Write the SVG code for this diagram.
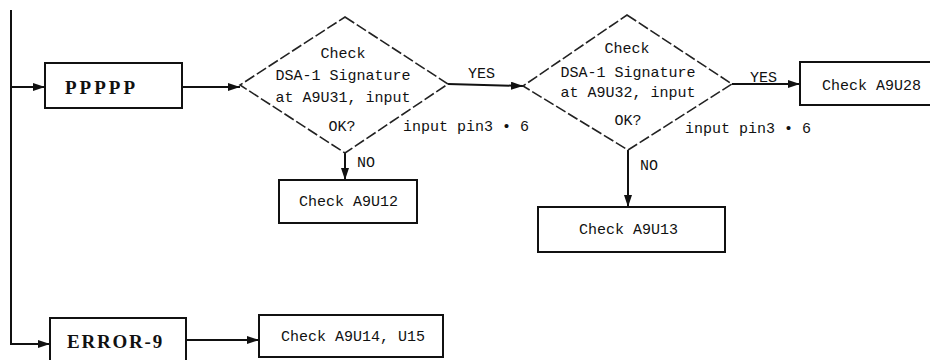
<svg xmlns="http://www.w3.org/2000/svg" width="930" height="360" viewBox="0 0 930 360">
<style>
.box{fill:#fff;stroke:#111;stroke-width:2}
.dia{fill:none;stroke:#222;stroke-width:1.6;stroke-dasharray:11 3}
.ln{fill:none;stroke:#111;stroke-width:2}
.t{font-family:"Liberation Mono","DejaVu Sans Mono",monospace;font-size:15px;fill:#111}
.b{font-family:"Liberation Serif","Times New Roman",serif;font-weight:bold;font-size:19px;fill:#111}
.m{text-anchor:middle}
</style>
<defs>
<marker id="ah" viewBox="0 0 12 8" refX="12" refY="4" markerWidth="12" markerHeight="8" markerUnits="userSpaceOnUse" orient="auto">
<path d="M0,0 L12,4 L0,8 Z" fill="#111"/>
</marker>
</defs>
<g id="connectors">
<path class="ln" d="M11,10 V344 H50" marker-end="url(#ah)"/>
<path class="ln" d="M11,87 H45" marker-end="url(#ah)"/>
<path class="ln" d="M182,87 H240" marker-end="url(#ah)"/>
<path class="ln" d="M448,84 L523,86" marker-end="url(#ah)"/>
<path class="ln" d="M732,84 H800" marker-end="url(#ah)"/>
<path class="ln" d="M345,153 V180" marker-end="url(#ah)"/>
<path class="ln" d="M628,150 V207" marker-end="url(#ah)"/>
<path class="ln" d="M186,340 H259" marker-end="url(#ah)"/>
<text class="t" x="468" y="78">YES</text>
<text class="t" x="750" y="82">YES</text>
<text class="t" x="357" y="167">NO</text>
<text class="t" x="640" y="170">NO</text>
<text class="t" x="403" y="131">input pin3 • 6</text>
<text class="t" x="685" y="133">input pin3 • 6</text>
</g>
<g id="ppppp">
<rect class="box" x="45" y="63" width="137" height="45"/>
<text class="b" x="65" y="94" letter-spacing="3">PPPPP</text>
</g>
<g id="diamond1">
<polygon class="dia" points="345,17 448,84 345,153 240,85"/>
<text class="t m" x="343" y="58">Check</text>
<text class="t m" x="343" y="80">DSA-1 Signature</text>
<text class="t m" x="343" y="102">at A9U31, input</text>
<text class="t m" x="342" y="131">OK?</text>
</g>
<g id="diamond2">
<polygon class="dia" points="627,15 732,84 628,150 523,86"/>
<text class="t m" x="627" y="53">Check</text>
<text class="t m" x="628" y="77">DSA-1 Signature</text>
<text class="t m" x="628" y="97">at A9U32, input</text>
<text class="t m" x="628" y="125">OK?</text>
</g>
<g id="a9u28">
<rect class="box" x="800" y="62" width="140" height="43"/>
<text class="t" x="822" y="90">Check A9U28</text>
</g>
<g id="a9u12">
<rect class="box" x="279" y="180" width="138" height="43"/>
<text class="t" x="299" y="206">Check A9U12</text>
</g>
<g id="a9u13">
<rect class="box" x="538" y="207" width="187" height="45"/>
<text class="t" x="579" y="234">Check A9U13</text>
</g>
<g id="error9">
<rect class="box" x="50" y="318" width="136" height="46"/>
<text class="b" x="67" y="348" letter-spacing="1.8">ERROR-9</text>
</g>
<g id="a9u14">
<rect class="box" x="259" y="315" width="184" height="42"/>
<text class="t" x="281" y="341">Check A9U14, U15</text>
</g>
</svg>
